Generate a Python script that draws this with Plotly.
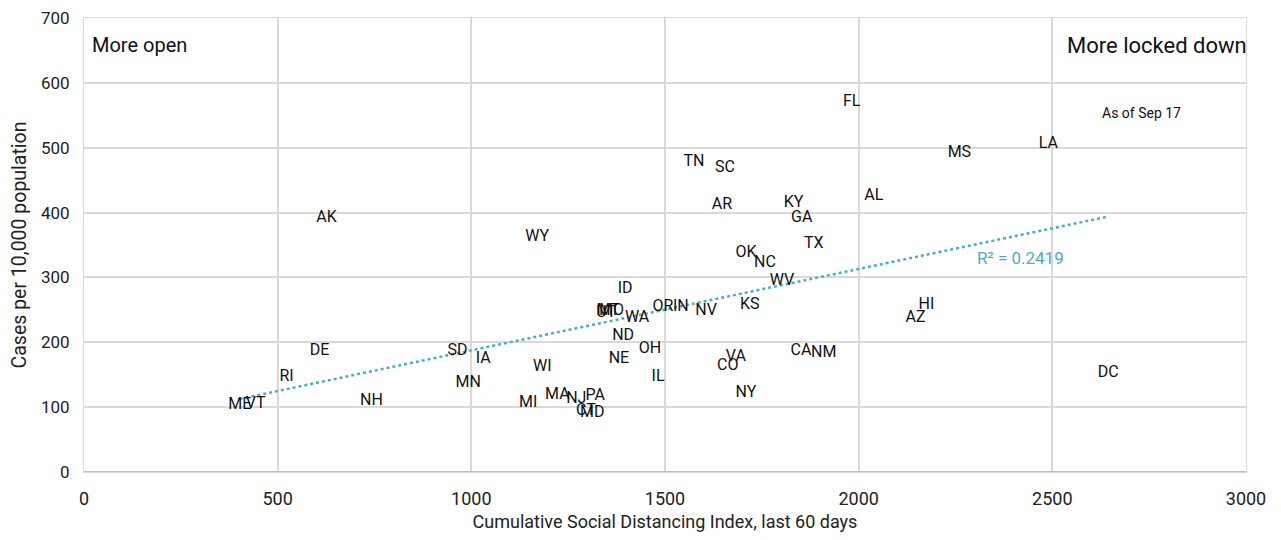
import numpy as np
import plotly.graph_objects as go

states = ["ME", "VT", "RI", "DE", "AK", "NH", "WY", "SD", "IA", "MN", "WI", "MI", "MA", "NJ", "PA",
          "CT", "MD", "ID", "MT", "UT", "MO", "WA", "ND", "NE", "OH", "IL", "OR", "IN", "NV", "KS",
          "WV", "VA", "CO", "NY", "CA", "NM", "OK", "NC", "TX", "KY", "GA", "AR", "TN", "SC", "AL",
          "FL", "MS", "LA", "HI", "AZ", "DC"]
sdi = [402, 443, 523, 608, 626, 742, 1170, 964, 1031, 992, 1183, 1147, 1222, 1271, 1320,
       1296, 1312, 1397, 1353, 1348, 1362, 1428, 1392, 1381, 1461, 1482, 1495, 1541, 1606, 1719,
       1802, 1683, 1662, 1709, 1851, 1910, 1709, 1758, 1884, 1832, 1853, 1647, 1575, 1655, 2039,
       1982, 2260, 2490, 2175, 2147, 2644]
cases = [103, 105, 146, 186, 392, 109, 362, 186, 175, 138, 162, 106, 118, 112, 117,
         94, 91, 282, 249, 245, 249, 238, 209, 174, 189, 146, 255, 255, 248, 257,
         294, 177, 163, 122, 186, 183, 338, 323, 351, 414, 391, 411, 478, 468, 426,
         571, 492, 505, 258, 238, 152]

x_ticks = [0, 500, 1000, 1500, 2000, 2500, 3000]
y_ticks = [0, 100, 200, 300, 400, 500, 600, 700]

FONT = "Roboto, Liberation Sans, sans-serif"
TEAL = "#4BACC6"
INK = "#111111"
AXIS_INK = "#222222"

xa = np.array(sdi, dtype=float)
ya = np.array(cases, dtype=float)
slope, intercept = np.polyfit(xa, ya, 1)
tx = np.array([xa.min(), xa.max()])
ty = slope * tx + intercept

fig = go.Figure()
fig.add_trace(go.Scatter(x=tx, y=ty, mode="lines",
                         line=dict(color=TEAL, width=2.5, dash="dot"),
                         hoverinfo="skip", showlegend=False))
fig.add_trace(go.Scatter(x=sdi, y=cases, mode="text", text=states,
                         textposition="middle center",
                         textfont=dict(family=FONT, size=16, color=INK),
                         showlegend=False))

fig.add_annotation(x=2300, y=330, text="R² = 0.2419",
                   showarrow=False, xanchor="left", yanchor="middle",
                   font=dict(family=FONT, size=17, color=TEAL))
fig.add_annotation(xref="paper", yref="paper", x=0.005, y=0.94, text="More open",
                   showarrow=False, xanchor="left", yanchor="middle",
                   font=dict(family=FONT, size=20, color=INK))
fig.add_annotation(xref="paper", yref="paper", x=1.003, y=0.94, text="More locked down",
                   showarrow=False, xanchor="right", yanchor="middle",
                   font=dict(family=FONT, size=22, color=INK))
fig.add_annotation(x=2729, y=554, text="As of Sep 17",
                   showarrow=False, xanchor="center", yanchor="middle",
                   font=dict(family=FONT, size=14, color=INK))

fig.update_layout(
    width=1265, height=524,
    margin=dict(l=76, r=27, t=10, b=60),
    paper_bgcolor="white", plot_bgcolor="white",
    font=dict(family=FONT, size=17, color=AXIS_INK),
)
fig.update_xaxes(range=[0, 3000], tickvals=x_ticks, showgrid=True, gridcolor="#d9d9d9",
                 gridwidth=1.5, zeroline=False, showline=True, linecolor="#d9d9d9",
                 mirror=True, ticks="", automargin=False, ticklabeloverflow="allow",
                 ticklabelstandoff=10,
                 tickfont=dict(family=FONT, size=18, color=AXIS_INK),
                 title=dict(text="Cumulative Social Distancing Index, last 60 days",
                            font=dict(family=FONT, size=18, color=AXIS_INK), standoff=8))
fig.update_yaxes(range=[0, 700], tickvals=y_ticks, showgrid=True, gridcolor="#d9d9d9",
                 gridwidth=1.5, zeroline=False, showline=True, linecolor="#d9d9d9",
                 mirror=True, ticks="", automargin=False, ticklabeloverflow="allow",
                 ticklabelstandoff=10,
                 tickfont=dict(family=FONT, size=17, color=AXIS_INK),
                 title=dict(text="Cases per 10,000 population",
                            font=dict(family=FONT, size=19.5, color=AXIS_INK), standoff=14))
fig.add_shape(type="line", xref="paper", yref="y", x0=0, x1=1, y0=0, y1=0,
              line=dict(color="#bfbfbf", width=2))

fig.write_html("out.html")
